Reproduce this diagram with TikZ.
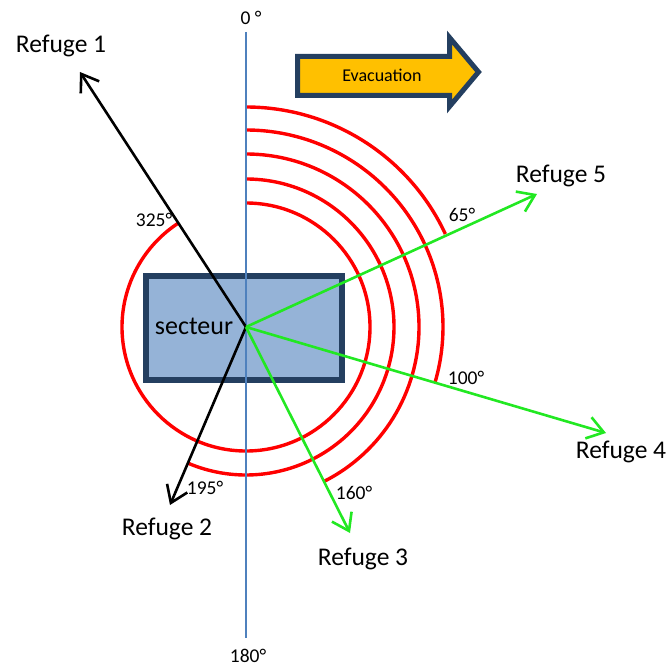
\documentclass[tikz,border=0pt]{standalone}
\usepackage{fontspec}
\setmainfont{Carlito}
\usetikzlibrary{arrows.meta,positioning,calc}
\definecolor{arcred}{HTML}{FF0000}
\definecolor{refgreen}{HTML}{22E822}
\definecolor{axisblue}{HTML}{4F81BD}
\definecolor{sectfill}{HTML}{95B3D7}
\definecolor{darknavy}{HTML}{243F60}
\definecolor{evacorange}{HTML}{FFC000}
\tikzset{
  refarrow/.style={line width=2.6bp, -{Straight Barb[length=16bp,width=22bp]}},
  reflabel/.style={font=\fontsize{25.5bp}{30bp}\selectfont, inner sep=0pt},
  anglabel/.style={font=\fontsize{19.5bp}{23bp}\selectfont, inner sep=0pt},
  sectbox/.style={draw=darknavy, fill=sectfill, line width=6bp, inner sep=0pt},
  sectorarc/.style={draw=arcred, line width=3.4bp}
}

\begin{document}
\begin{tikzpicture}[x=1bp,y=-1bp]
  \useasboundingbox (0,0) rectangle (672,668);
  \coordinate (c) at (246,327);
  \node[sectbox, minimum width=196bp, minimum height=104bp] (sect) at (244,328) {};
  \node[reflabel, font=\fontsize{26bp}{30bp}\selectfont] (sectname) at (194,326) {secteur};

  \foreach \r/\e in {220/-25, 197/16.4, 173/63.2, 148/113.1, 124/236.9}
    \draw[sectorarc] (c) ++(-90:\r) arc[start angle=-90, end angle=\e, radius=\r];

  \coordinate (axtop) at (246,32);
  \coordinate (axbot) at (246,638);
  \draw[axisblue, line width=2.2bp] (axtop) -- (axbot);
  \node[anglabel] (north) at (251,18) {0 °};
  \node[anglabel] (south) at (248,656) {180°};

  \foreach \i/\x/\y/\c in {1/80/72/black, 2/170/505/black, 3/350/533/refgreen, 4/606/433/refgreen, 5/537/194/refgreen}{
    \coordinate (tip\i) at (\x,\y);
    \draw[refarrow, \c] (c) -- (tip\i);
  }

  \node[reflabel] (ref1) at (61,46) {Refuge 1};
  \node[reflabel] (ref2) at (167,529) {Refuge 2};
  \node[reflabel] (ref3) at (363,559) {Refuge 3};
  \node[reflabel] (ref4) at (621,452) {Refuge 4};
  \node[reflabel] (ref5) at (561,176) {Refuge 5};

  \node[anglabel] (a325) at (154,220) {325°};
  \node[anglabel] (a65) at (462,215) {65°};
  \node[anglabel] (a100) at (466,378) {100°};
  \node[anglabel] (a160) at (354,493) {160°};
  \node[anglabel] (a195) at (205,488) {195°};

  \draw[draw=darknavy, fill=evacorange, line width=5bp, line join=miter]
    (297.5,56.5) -- (449.5,56.5) -- (449.5,37.5) -- (478.5,72) -- (449.5,106.5) -- (449.5,95.5) -- (297.5,95.5) -- cycle;
  \node[font=\fontsize{18bp}{22bp}\selectfont, inner sep=0pt] (evac) at (382,75) {Evacuation};
\end{tikzpicture}
\end{document}
